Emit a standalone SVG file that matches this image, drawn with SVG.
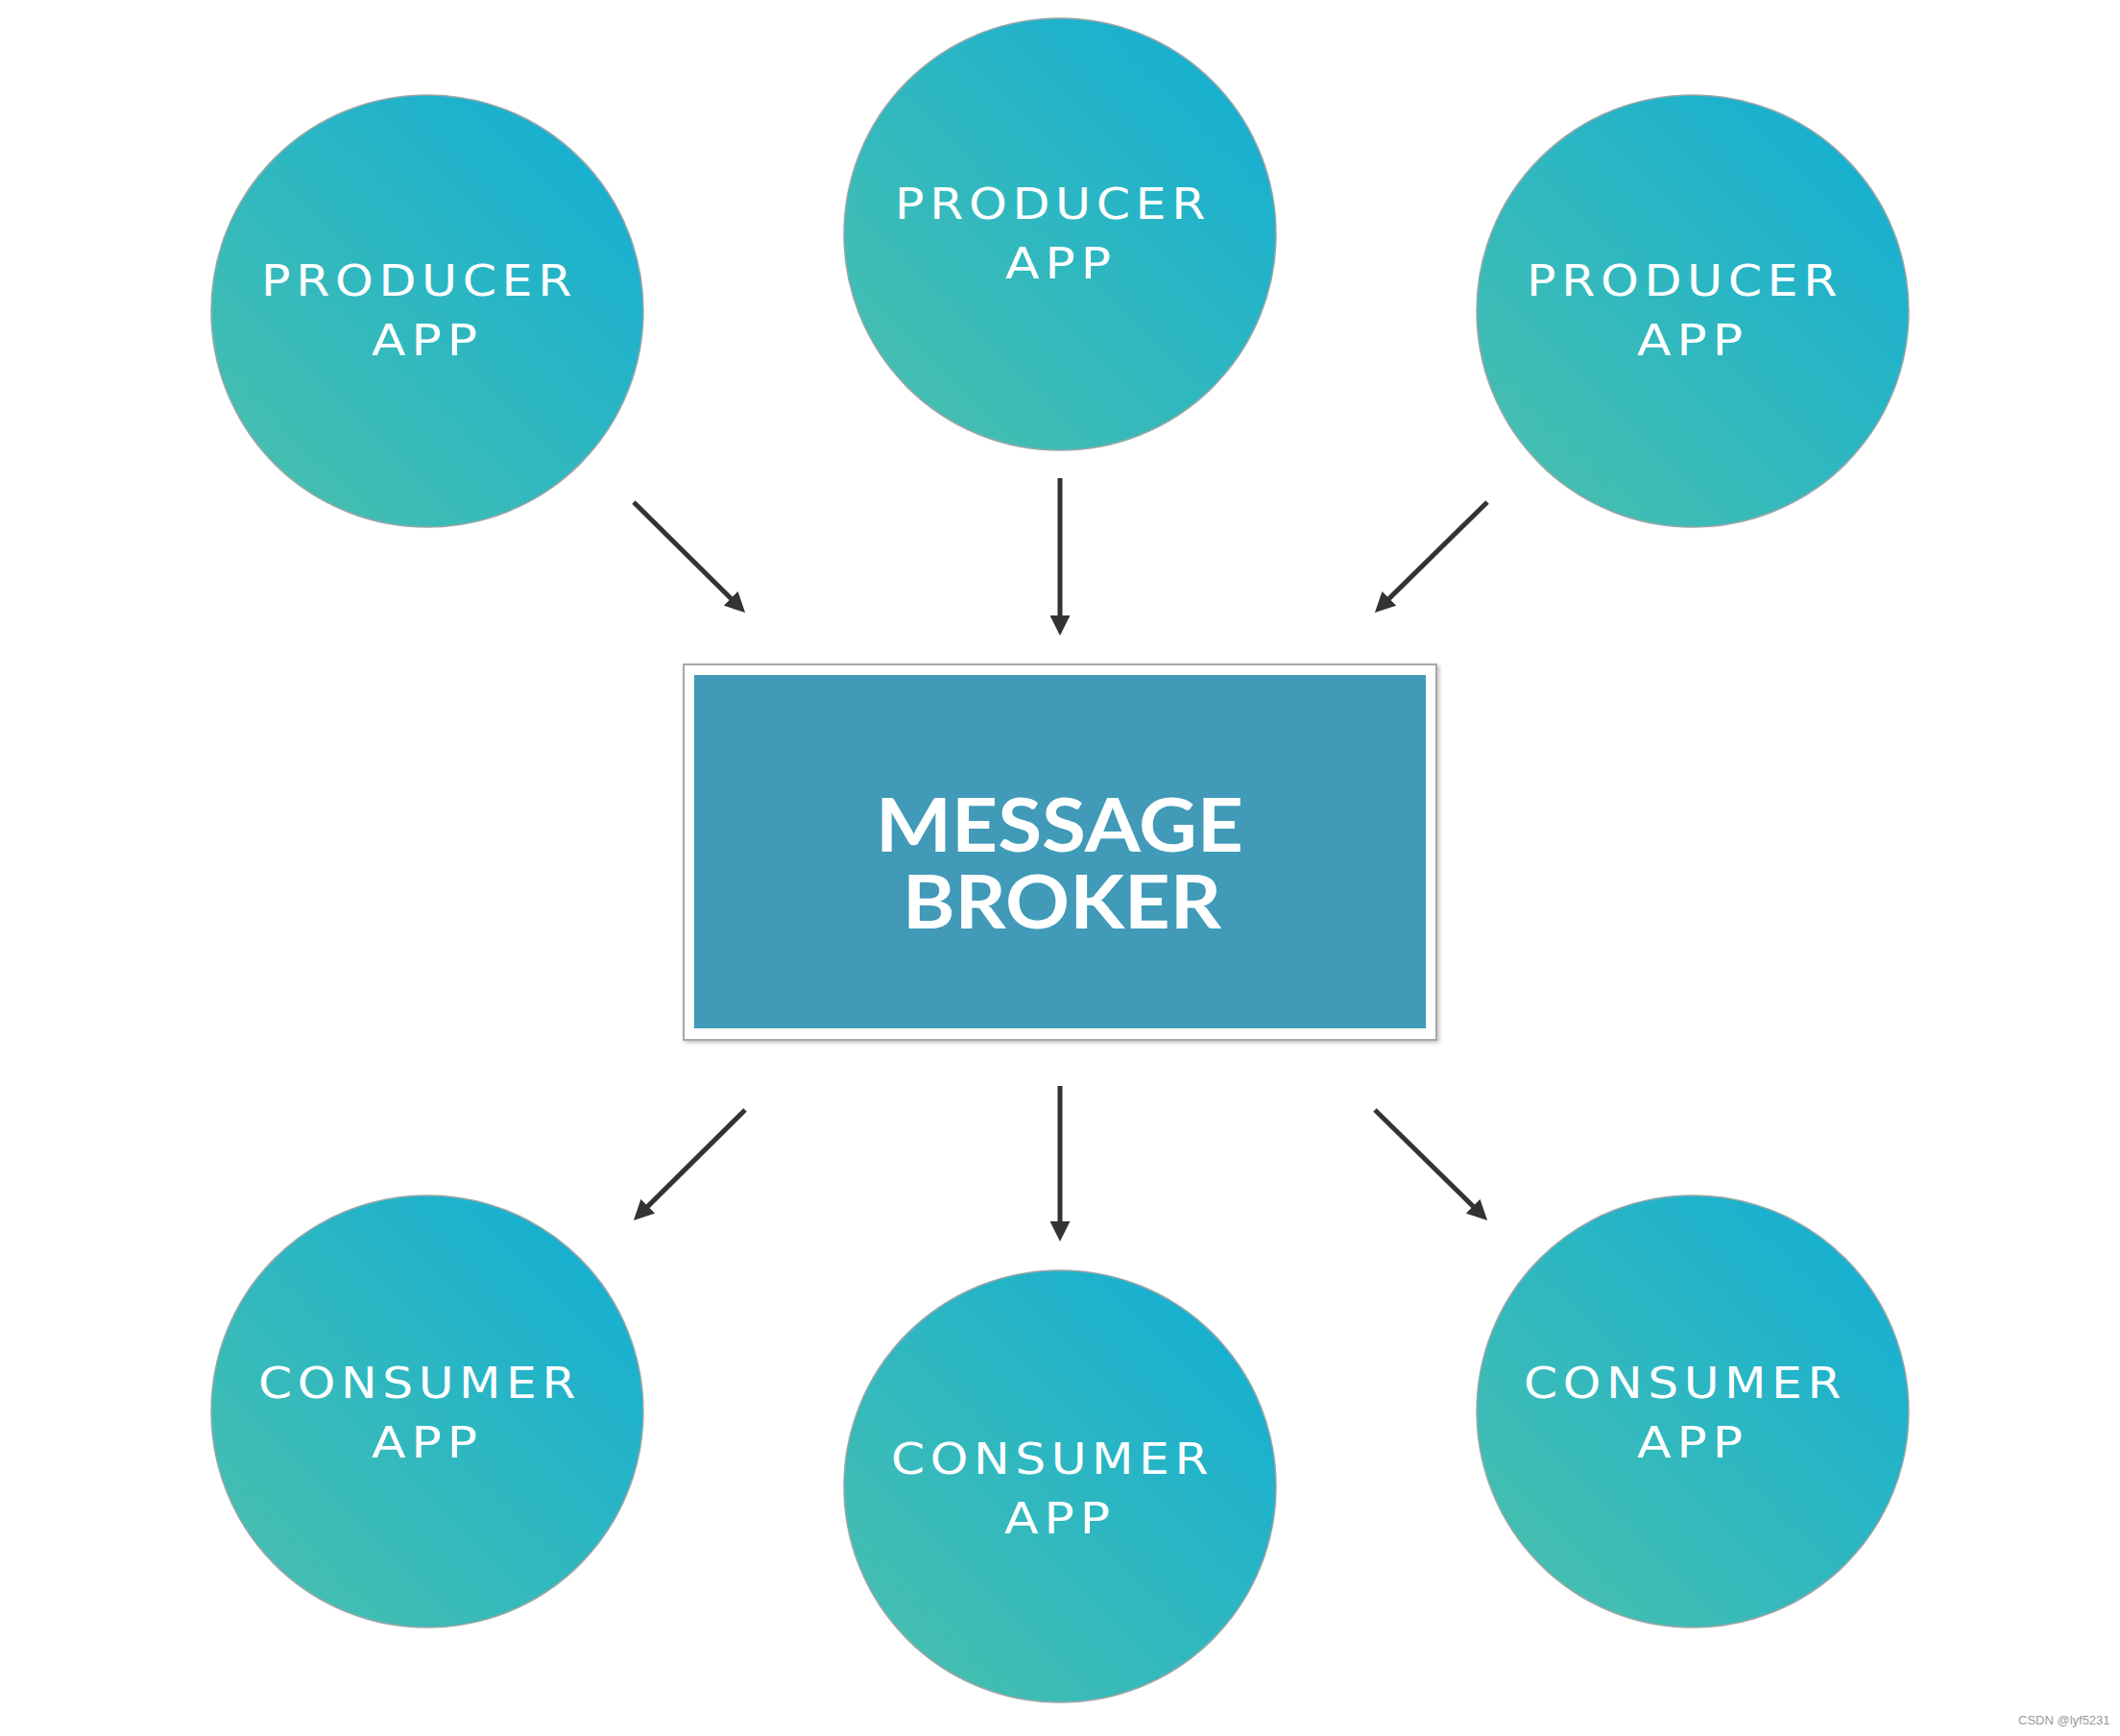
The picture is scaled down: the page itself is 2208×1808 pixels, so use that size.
<svg xmlns="http://www.w3.org/2000/svg" width="2208" height="1808" viewBox="0 0 2208 1808">
<defs>
<linearGradient id="cg" x1="0" y1="1" x2="1" y2="0">
<stop offset="0" stop-color="#4cc1ab"/>
<stop offset="1" stop-color="#10add6"/>
</linearGradient>
<marker id="ah" viewBox="0 0 10 10" refX="5" refY="5" markerWidth="21" markerHeight="21" markerUnits="userSpaceOnUse" orient="auto">
<path d="M0,0 L10,5 L0,10 z" fill="#333"/>
</marker>
<filter id="sh" x="-5%" y="-5%" width="110%" height="110%">
<feDropShadow dx="2" dy="2" stdDeviation="2" flood-color="#000" flood-opacity="0.25"/>
</filter>
</defs>
<style>
.node circle{fill:url(#cg);stroke:#9aa6a8;stroke-width:1.5}
.lbl{font-family:"DejaVu Sans","Liberation Sans",sans-serif;font-size:45px;letter-spacing:5px;fill:#fff;text-anchor:middle}
.big{font-family:Lato,"Liberation Sans",sans-serif;font-size:77px;font-weight:700;fill:#fff;text-anchor:middle}
.conn line{stroke:#333;stroke-width:5;marker-end:url(#ah)}
.wm{font-family:"Liberation Sans",Arial,sans-serif;font-size:13px;fill:#999}
</style>
<rect x="0" y="0" width="2208" height="1808" fill="#fff"/>

<g id="producer1" class="node">
<circle cx="445" cy="324" r="225"/>
<text class="lbl" x="436.5" y="308" textLength="329" lengthAdjust="spacingAndGlyphs">PRODUCER</text>
<text class="lbl" x="445" y="370" textLength="116" lengthAdjust="spacingAndGlyphs">APP</text>
</g>
<g id="producer2" class="node">
<circle cx="1104" cy="244" r="225"/>
<text class="lbl" x="1096.5" y="228" textLength="329" lengthAdjust="spacingAndGlyphs">PRODUCER</text>
<text class="lbl" x="1105" y="290" textLength="116" lengthAdjust="spacingAndGlyphs">APP</text>
</g>
<g id="producer3" class="node">
<circle cx="1763" cy="324" r="225"/>
<text class="lbl" x="1754.5" y="308" textLength="329" lengthAdjust="spacingAndGlyphs">PRODUCER</text>
<text class="lbl" x="1763" y="370" textLength="116" lengthAdjust="spacingAndGlyphs">APP</text>
</g>

<g id="broker" class="node">
<rect x="712" y="692" width="784" height="391" fill="#fff" stroke="#a8a8a8" stroke-width="2" filter="url(#sh)"/>
<rect x="723" y="703" width="762" height="368" fill="#409ab8"/>
<text class="big" x="1103.5" y="887" textLength="383" lengthAdjust="spacingAndGlyphs">MESSAGE</text>
<text class="big" x="1106" y="967" textLength="332" lengthAdjust="spacingAndGlyphs">BROKER</text>
</g>

<g id="consumer1" class="node">
<circle cx="445" cy="1470" r="225"/>
<text class="lbl" x="437" y="1456" textLength="336" lengthAdjust="spacingAndGlyphs">CONSUMER</text>
<text class="lbl" x="445" y="1518" textLength="116" lengthAdjust="spacingAndGlyphs">APP</text>
</g>
<g id="consumer2" class="node">
<circle cx="1104" cy="1548" r="225"/>
<text class="lbl" x="1096" y="1535" textLength="336" lengthAdjust="spacingAndGlyphs">CONSUMER</text>
<text class="lbl" x="1104" y="1597" textLength="116" lengthAdjust="spacingAndGlyphs">APP</text>
</g>
<g id="consumer3" class="node">
<circle cx="1763" cy="1470" r="225"/>
<text class="lbl" x="1755" y="1456" textLength="336" lengthAdjust="spacingAndGlyphs">CONSUMER</text>
<text class="lbl" x="1763" y="1518" textLength="116" lengthAdjust="spacingAndGlyphs">APP</text>
</g>

<g id="connectors" class="conn">
<line x1="660" y1="523" x2="768.6" y2="630.6"/>
<line x1="1104" y1="498" x2="1104" y2="651.5"/>
<line x1="1549" y1="523" x2="1439.4" y2="630.6"/>
<line x1="776" y1="1156" x2="667.4" y2="1263.6"/>
<line x1="1104" y1="1131" x2="1104" y2="1282.5"/>
<line x1="1432" y1="1156" x2="1541.6" y2="1263.6"/>
</g>

<text class="wm" x="2102" y="1796">CSDN @lyf5231</text>
</svg>
